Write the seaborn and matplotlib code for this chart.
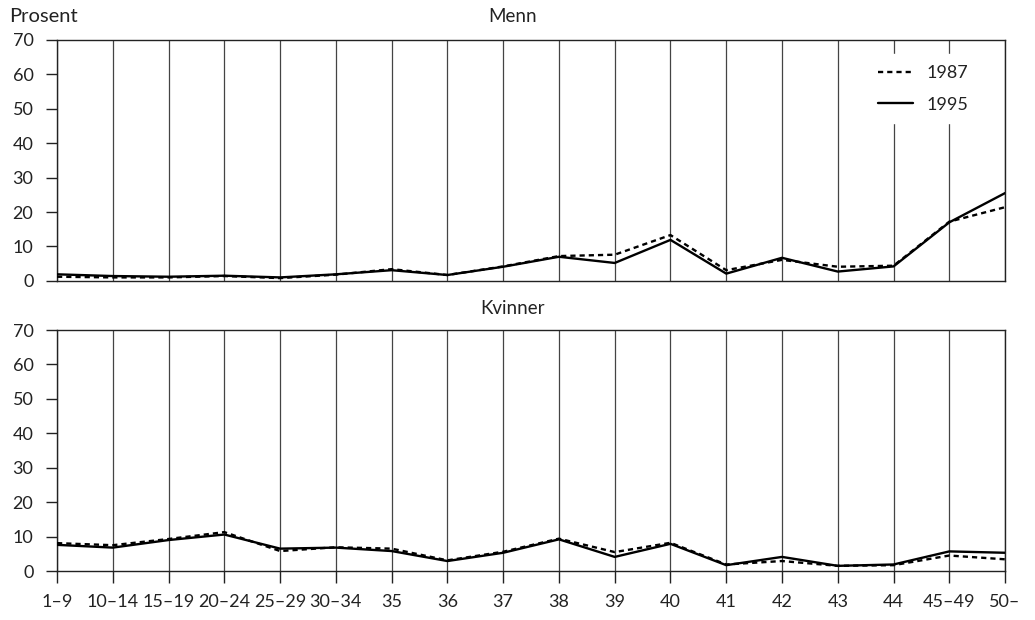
import pandas as pd
import matplotlib
matplotlib.use("Agg")
import matplotlib.pyplot as plt
import seaborn as sns

# ===============================
# Data
# ===============================

categories = ["1–9", "10–14", "15–19", "20–24", "25–29", "30–34", "35", "36", "37",
              "38", "39", "40", "41", "42", "43", "44", "45–49", "50–"]

menn_1987 = [1.2, 1.0, 1.0, 1.4, 0.8, 1.8, 3.4, 1.7, 4.2, 7.2, 7.6, 13.3,
             3.1, 6.1, 4.1, 4.4, 17.2, 21.4]
menn_1995 = [1.9, 1.4, 1.2, 1.5, 1.0, 1.9, 3.1, 1.7, 4.1, 7.0, 5.2, 11.9,
             2.1, 6.7, 2.7, 4.2, 17.0, 25.5]

kvinner_1987 = [8.1, 7.5, 9.3, 11.3, 5.8, 6.9, 6.5, 3.1, 5.6, 9.4, 5.5, 8.2,
                1.9, 2.9, 1.5, 1.7, 4.5, 3.4]
kvinner_1995 = [7.6, 6.8, 9.0, 10.6, 6.5, 6.8, 5.8, 2.9, 5.3, 9.2, 4.1, 7.9,
                1.7, 4.1, 1.5, 1.9, 5.7, 5.3]

years = ["1987", "1995"]


def long_frame(v1987, v1995):
    df = pd.DataFrame({
        "alder": categories * 2,
        "prosent": v1987 + v1995,
        "år": ["1987"] * len(categories) + ["1995"] * len(categories),
    })
    df["alder"] = pd.Categorical(df["alder"], categories=categories, ordered=True)
    return df


df_menn = long_frame(menn_1987, menn_1995)
df_kvinner = long_frame(kvinner_1987, kvinner_1995)

# ===============================
# Plot
# ===============================

sns.set_style("white")
plt.rcParams["font.family"] = ["Lato", "DejaVu Sans"]
plt.rcParams["font.size"] = 13

fig = plt.figure(figsize=(10.35, 6.2), dpi=100)
ax_top = fig.add_axes([0.0551, 0.547, 0.9160, 0.3887])
ax_bot = fig.add_axes([0.0551, 0.079, 0.9160, 0.3887])

dashes = {"1987": (2.2, 1.7), "1995": ""}

for ax, df, show_legend in [(ax_top, df_menn, True), (ax_bot, df_kvinner, False)]:
    x_num = df["alder"].cat.codes
    sns.lineplot(x=x_num, y=df["prosent"], style=df["år"], style_order=years,
                 dashes=dashes, color="black", linewidth=1.7, ax=ax,
                 legend=show_legend, zorder=3)
    ax.set_xlim(0, len(categories) - 1)
    ax.set_ylim(0, 70)
    ax.set_yticks(range(0, 71, 10))
    ax.set_xticks(range(len(categories)))
    for i in range(len(categories)):
        ax.axvline(i, color="#444444", linewidth=0.9, zorder=1)
    for side in ["left", "right", "top", "bottom"]:
        ax.spines[side].set_color("#222222")
        ax.spines[side].set_linewidth(1.0)
    ax.set_xlabel("")
    ax.set_ylabel("")
    ax.tick_params(axis="y", direction="out", length=8, width=1.0,
                   color="#222222", labelsize=13, pad=9, left=True,
                   labelcolor="#222222")

ax_top.tick_params(axis="x", bottom=False, labelbottom=False)
ax_bot.set_xticklabels(categories)
ax_bot.tick_params(axis="x", direction="out", length=8.5, width=1.0,
                   color="#222222", labelsize=13, pad=8, bottom=True,
                   labelcolor="#222222")

leg = ax_top.legend(loc="upper right", bbox_to_anchor=(0.982, 0.978),
                    frameon=True, facecolor="white", edgecolor="white",
                    framealpha=1, fontsize=13, handlelength=1.95,
                    handletextpad=0.72, labelspacing=0.86, borderpad=0.6)
for text in leg.get_texts():
    text.set_color("#222222")
leg.set_zorder(5)

fig.text(513 / 1035, 1 - 17 / 620, "Menn", ha="center", va="center",
         fontsize=13.5, color="#222222")
fig.text(513 / 1035, 1 - 308 / 620, "Kvinner", ha="center", va="center",
         fontsize=13.5, color="#222222")
fig.text(9 / 1035, 1 - 16 / 620, "Prosent", ha="left", va="center",
         fontsize=14.5, color="#222222")

fig.savefig("out.png", dpi=100)
